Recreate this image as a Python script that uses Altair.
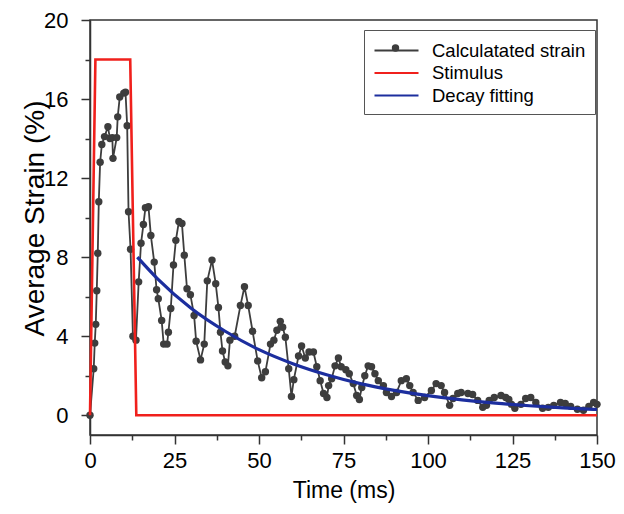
import altair as alt
import pandas as pd

# ---- data ----
strain_time = [0.0, 1.1, 1.4, 1.7, 2.0, 2.3, 2.6, 3.0, 3.5, 4.3, 5.3, 5.9, 6.6, 6.8, 7.9, 8.2, 8.8,
               10.0, 10.5, 11.0, 11.4, 12.0, 12.7, 13.6, 14.4, 15.1, 15.8, 16.4, 17.3, 18.0, 19.0,
               19.7, 20.2, 21.2, 21.8, 22.8, 23.2, 23.9, 24.7, 25.4, 26.3, 27.2, 27.9, 28.7, 29.7,
               30.8, 31.4, 32.7, 33.8, 34.7, 36.1, 37.2, 38.0, 38.6, 39.2, 40.0, 40.8, 41.4, 42.8,
               44.5, 45.7, 46.8, 48.1, 49.6, 50.8, 51.9, 53.4, 54.4, 55.3, 56.3, 57.0, 57.8, 58.8,
               59.6, 60.3, 61.7, 62.6, 63.7, 64.8, 66.1, 67.1, 68.1, 69.1, 70.1, 70.6, 71.5, 72.5,
               73.5, 74.3, 75.7, 76.7, 77.9, 78.9, 79.7, 80.4, 81.3, 82.3, 83.3, 84.3, 85.3, 86.8,
               87.7, 89.2, 90.7, 92.1, 93.6, 94.6, 95.6, 97.1, 99.0, 101.0, 102.4, 103.9, 104.9,
               106.4, 107.4, 108.8, 109.8, 111.8, 113.2, 114.7, 116.2, 117.3, 118.1, 119.6, 121.6,
               123.0, 123.9, 124.7, 125.7, 127.5, 128.9, 130.4, 131.9, 133.9, 135.6, 137.2, 139.2,
               140.6, 142.2, 144.2, 146.0, 147.6, 149.0, 150.0]
strain_value = [0.0, 2.35, 3.65, 4.6, 6.3, 8.2, 10.8, 12.8, 13.7, 14.1, 14.6, 14.0, 14.05, 13.0, 14.05,
                15.1, 16.1, 16.3, 16.35, 14.65, 10.3, 8.4, 4.0, 3.8, 6.75, 8.7, 9.65, 10.5, 10.55, 9.1,
                7.75, 6.35, 5.9, 4.8, 3.6, 3.6, 4.2, 5.4, 7.6, 8.85, 9.8, 9.7, 8.1, 6.4, 6.1, 5.05,
                3.75, 2.8, 3.6, 6.8, 7.85, 6.65, 5.45, 4.2, 3.25, 2.7, 2.5, 3.8, 4.0, 5.55, 6.5, 5.55,
                4.25, 2.75, 1.9, 2.2, 3.6, 3.8, 4.3, 4.75, 4.45, 3.95, 2.35, 0.95, 1.8, 3.0, 3.5, 2.9,
                3.2, 3.2, 2.45, 1.75, 1.1, 0.9, 1.5, 1.85, 2.5, 2.9, 2.45, 2.3, 2.1, 1.6, 1.0, 0.8,
                1.4, 2.0, 2.5, 2.45, 2.1, 1.75, 1.5, 1.15, 0.95, 1.15, 1.75, 1.85, 1.5, 1.15, 0.75,
                0.9, 1.25, 1.6, 1.5, 1.15, 0.5, 0.85, 1.1, 1.15, 1.1, 1.05, 0.75, 0.4, 0.5, 0.75, 0.9,
                1.0, 0.9, 0.8, 0.55, 0.35, 0.55, 0.85, 0.9, 0.65, 0.35, 0.4, 0.5, 0.65, 0.6, 0.45,
                0.3, 0.25, 0.45, 0.65, 0.55]

stimulus_time = [0.0, 1.6, 11.9, 13.7, 150.0]
stimulus_value = [0.0, 18.0, 18.0, 0.0, 0.0]

fit_time = [14, 20, 30, 40, 50, 60, 70, 80, 90, 100, 110, 120, 130, 140, 150]
fit_value = [8.0, 6.9, 5.4, 4.25, 3.32, 2.61, 2.05, 1.6, 1.26, 0.99, 0.78, 0.61, 0.48, 0.37, 0.29]

series_names = ["Calculatated strain", "Stimulus", "Decay fitting"]
series_colors = ["#3d3d3d", "#f0201c", "#1c2e9e"]

x_ticks = [0, 12.5, 25, 37.5, 50, 62.5, 75, 87.5, 100, 112.5, 125, 137.5, 150]
y_ticks = [0, 2, 4, 6, 8, 10, 12, 14, 16, 18, 20]

# ---- tables ----
strain_df = pd.DataFrame({"t": strain_time, "v": strain_value,
                          "series": series_names[0], "marker": "dot"})
stim_df = pd.DataFrame({"t": stimulus_time, "v": stimulus_value, "series": series_names[1]})
fit_df = pd.DataFrame({"t": fit_time, "v": fit_value, "series": series_names[2]})

FONT = "Liberation Sans"
AX = "#333333"

x_enc = alt.X(
    "t:Q",
    scale=alt.Scale(domain=[0, 150], nice=False, zero=False),
    axis=alt.Axis(
        values=x_ticks, title="Time (ms)", grid=False,
        labelExpr="datum.value % 25 === 0 ? datum.label : ''",
        tickSize={"condition": {"test": "datum.value % 25 === 0", "value": 9}, "value": 5},
        labelFlush=False, labelOverlap=False,
        domainColor=AX, tickColor=AX, domainWidth=1.5, tickWidth=1.5,
        labelFont=FONT, labelFontSize=22, labelColor="black", labelPadding=6,
        titleFont=FONT, titleFontSize=23, titleFontWeight="normal", titleColor="black",
        titlePadding=8,
    ),
)
y_enc = alt.Y(
    "v:Q",
    scale=alt.Scale(domain=[-1, 20], nice=False, zero=False),
    axis=alt.Axis(
        values=y_ticks, title="Average Strain (%)", grid=False,
        labelExpr="datum.value % 4 === 0 ? datum.label : ''",
        tickSize={"condition": {"test": "datum.value % 4 === 0", "value": 9}, "value": 5},
        labelOverlap=False,
        domainColor=AX, tickColor=AX, domainWidth=1.5, tickWidth=1.5,
        labelFont=FONT, labelFontSize=22, labelColor="black", labelPadding=13,
        titleFont=FONT, titleFontSize=28, titleFontWeight="normal", titleColor="black",
        titleX=-41, titleY=198,
    ),
)

LINE_PATH = "M-2.2,0H2.2"
NBSP = "\u00a0"

line_legend = alt.Legend(
    title=None, orient="none", legendX=274, legendY=10, direction="vertical",
    symbolType=LINE_PATH, symbolSize=400, symbolStrokeWidth=2.2,
    symbolOffset=12, labelOffset=24,
    labelFont=FONT, labelFontSize=18.5, labelColor="black",
    labelExpr="datum.label + '" + NBSP * 3 + "'",
    padding=9, rowPadding=1.5,
    strokeColor="#555555", cornerRadius=0, zindex=0,
)

dot_legend = alt.Legend(
    title=None, orient="none", legendX=301.5, legendY=24,
    symbolType="circle", symbolSize=55, symbolFillColor=series_colors[0],
    symbolStrokeWidth=0, symbolOpacity=1,
    labelExpr="''", labelFontSize=1, labelOffset=0, padding=0, zindex=1,
)

color_enc = alt.Color(
    "series:N",
    scale=alt.Scale(domain=series_names, range=series_colors),
    legend=line_legend,
)

strain_line = alt.Chart(strain_df).mark_line(strokeWidth=1.8).encode(x=x_enc, y=y_enc, color=color_enc)
strain_pts = alt.Chart(strain_df).mark_point(
    filled=True, size=55, opacity=1, color=series_colors[0], strokeWidth=0
).encode(
    x=x_enc, y=y_enc,
    shape=alt.Shape("marker:N", scale=alt.Scale(domain=["dot"], range=["circle"]), legend=dot_legend),
)
stim_line = alt.Chart(stim_df).mark_line(strokeWidth=2.6).encode(x=x_enc, y=y_enc, color=color_enc)
fit_line = alt.Chart(fit_df).mark_line(strokeWidth=3.2, interpolate="monotone").encode(x=x_enc, y=y_enc, color=color_enc)

chart = alt.layer(strain_line, strain_pts, stim_line, fit_line).properties(
    width=507, height=415,
    padding={"left": 82, "top": 12, "right": 19, "bottom": 69},
    autosize=alt.AutoSizeParams(type="none"),
    background="white",
).configure_view(stroke=AX, strokeWidth=1.5)

chart.save("out.html", embed_options={"renderer": "svg", "actions": False})
